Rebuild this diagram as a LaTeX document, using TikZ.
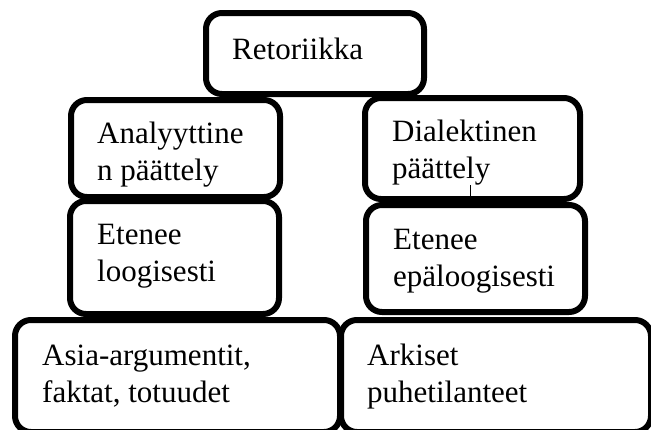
\documentclass[tikz,border=0pt]{standalone}
\usepackage{fontspec}
\setmainfont{Liberation Serif}
\usetikzlibrary{positioning}
\tikzset{laatikko/.style 2 args={
    draw, line width=6pt, rounded corners=16pt, inner sep=0pt,
    minimum width=#1, minimum height=#2
    },
    teksti/.style={anchor=base west, align=left, inner sep=0pt,
    font=\fontsize{31}{37}\selectfont}
}

\begin{document}
\begin{tikzpicture}[x=1pt,y=-1pt]
	\useasboundingbox (0,0) rectangle (651,429);
	\clip (0,0) rectangle (651,429);
	\node[laatikko={218pt}{81pt}] (ret) at (315,53.5) {};
	\node[laatikko={209pt}{97pt}] (ana) at (175.5,148.5) {};
	\node[laatikko={215pt}{101pt}] (dia) at (472.5,148.5) {};
	\node[laatikko={209pt}{113pt}] (log) at (174.5,257.5) {};
	\node[laatikko={219pt}{107pt}] (epa) at (475.5,258.5) {};
	\node[laatikko={325pt}{112pt}] (asia) at (177.5,376) {};
	\node[laatikko={310pt}{112pt}] (arki) at (496,376) {};
	\node[teksti] (retT) at (232,59) {Retoriikka};
	\node[teksti] (anaT) at (97,180) {Analyyttine\\n päättely};
	\node[teksti] (diaT) at (392,178) {Dialektinen\\päättely};
	\node[teksti] (logT) at (97,281) {Etenee\\loogisesti};
	\node[teksti] (epaT) at (393,286) {Etenee\\epäloogisesti};
	\node[teksti] (asiaT) at (42,402) {Asia-argumentit,\\faktat, totuudet};
	\node[teksti] (arkiT) at (367,402) {Arkiset\\puhetilanteet};
	\coordinate (tick) at (470,185);
	\draw[line width=1pt] (tick) -- (tick |- dia.south);
\end{tikzpicture}
\end{document}
